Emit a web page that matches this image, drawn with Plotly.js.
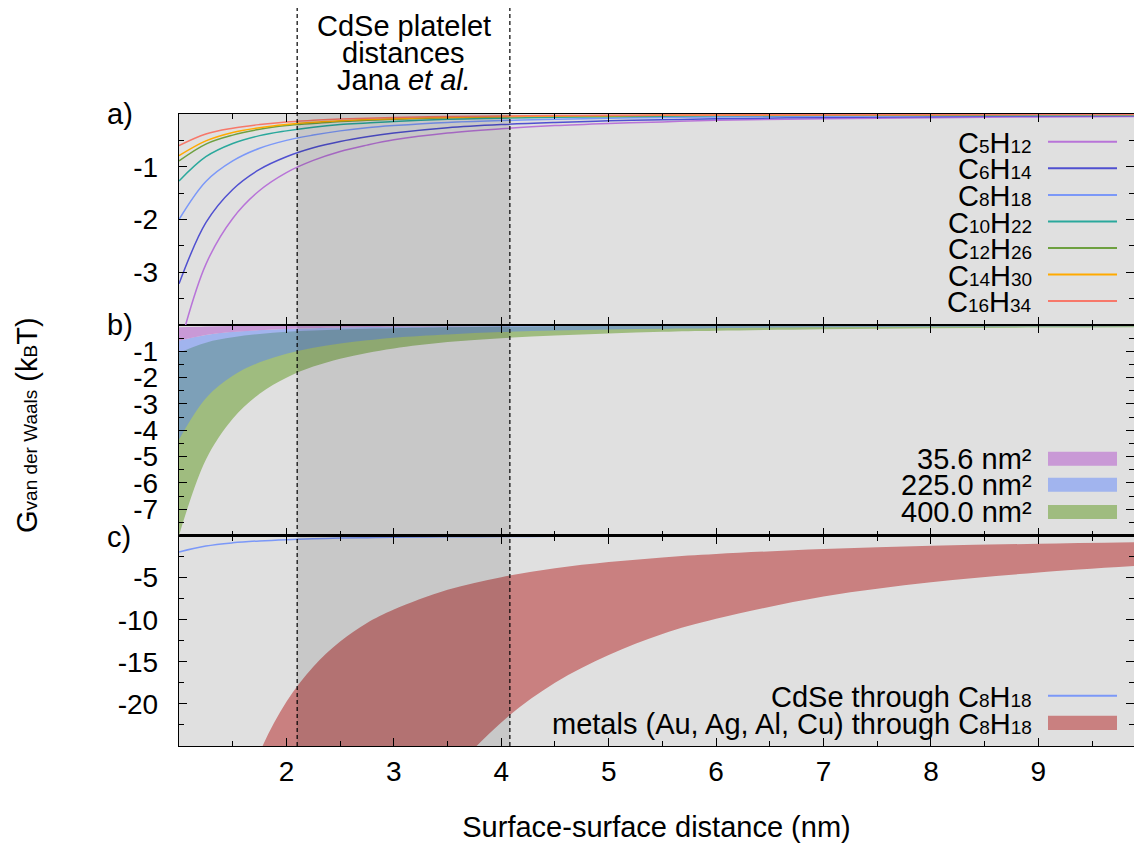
<!DOCTYPE html>
<html>
<head>
<meta charset="utf-8">
<script src="https://cdn.plot.ly/plotly-3.0.1.min.js"></script>
<style>html,body{margin:0;padding:0;background:#fff;}#chart{width:1134px;height:843px;}</style>
</head>
<body>
<div id="chart"></div>
<script>
// ---- data ----
const distance = [1, 1.25, 1.5, 1.75, 2, 2.25, 2.5, 2.75, 3, 3.5, 4, 4.5, 5, 5.5, 6, 7, 8, 9, 10];

// small subscript helper (text styling only)
const sb = t => '<span style="font-size:19px">' + t + '</span>';

// panel a: alkane series
const alkaneNames = ["C" + sb("5") + "H" + sb("12"), "C" + sb("6") + "H" + sb("14"), "C" + sb("8") + "H" + sb("18"),
  "C" + sb("10") + "H" + sb("22"), "C" + sb("12") + "H" + sb("26"), "C" + sb("14") + "H" + sb("30"), "C" + sb("16") + "H" + sb("34")];
const C5H12  = [-4.45, -2.85, -1.98, -1.45, -1.11, -0.88, -0.71, -0.59, -0.49, -0.36, -0.28, -0.22, -0.18, -0.15, -0.12, -0.09, -0.07, -0.055, -0.045];
const C6H14  = [-3.22, -2.06, -1.43, -1.05, -0.81, -0.64, -0.52, -0.43, -0.36, -0.26, -0.20, -0.16, -0.13, -0.11, -0.09, -0.066, -0.05, -0.04, -0.032];
const C8H18  = [-2.0, -1.28, -0.89, -0.65, -0.5, -0.40, -0.32, -0.26, -0.22, -0.16, -0.125, -0.10, -0.08, -0.066, -0.056, -0.041, -0.031, -0.025, -0.02];
const C10H22 = [-1.27, -0.81, -0.56, -0.41, -0.32, -0.25, -0.20, -0.17, -0.14, -0.10, -0.08, -0.063, -0.051, -0.042, -0.035, -0.026, -0.02, -0.016, -0.013];
const C12H26 = [-0.89, -0.57, -0.40, -0.29, -0.22, -0.18, -0.14, -0.12, -0.10, -0.073, -0.056, -0.044, -0.036, -0.029, -0.025, -0.018, -0.014, -0.011, -0.009];
const C14H30 = [-0.79, -0.51, -0.35, -0.26, -0.20, -0.156, -0.126, -0.104, -0.088, -0.064, -0.049, -0.039, -0.032, -0.026, -0.022, -0.016, -0.012, -0.010, -0.008];
const C16H34 = [-0.60, -0.38, -0.27, -0.20, -0.15, -0.12, -0.096, -0.079, -0.067, -0.049, -0.038, -0.030, -0.024, -0.020, -0.017, -0.012, -0.009, -0.007, -0.006];

// panel b: platelet areas, bands (upper / lower)
const areaNames = ["35.6 nm²", "225.0 nm²", "400.0 nm²"];
const a356Upper = [-0.09, -0.058, -0.04, -0.029, -0.022, -0.018, -0.014, -0.012, -0.010, -0.007, -0.006, -0.004, -0.004, -0.003, -0.0025, -0.002, -0.0014, -0.0011, -0.0009];
const a356Lower = [-0.60, -0.38, -0.27, -0.20, -0.15, -0.12, -0.096, -0.079, -0.067, -0.049, -0.038, -0.030, -0.024, -0.020, -0.017, -0.012, -0.009, -0.007, -0.006];
const a225Upper = [-0.59, -0.38, -0.26, -0.19, -0.15, -0.12, -0.094, -0.078, -0.066, -0.048, -0.037, -0.029, -0.024, -0.020, -0.016, -0.012, -0.009, -0.007, -0.006];
const a225Lower = [-4.35, -2.78, -1.93, -1.42, -1.09, -0.86, -0.70, -0.58, -0.48, -0.36, -0.27, -0.21, -0.17, -0.14, -0.12, -0.089, -0.068, -0.054, -0.044];
const a400Upper = [-1.05, -0.67, -0.47, -0.34, -0.26, -0.21, -0.17, -0.14, -0.12, -0.086, -0.066, -0.052, -0.042, -0.035, -0.029, -0.021, -0.016, -0.013, -0.011];
const a400Lower = [-8.0, -5.12, -3.56, -2.61, -2.0, -1.58, -1.28, -1.06, -0.89, -0.65, -0.50, -0.40, -0.32, -0.26, -0.22, -0.16, -0.125, -0.099, -0.08];

// panel c
const panelCNames = ["CdSe through C" + sb("8") + "H" + sb("18"), "metals (Au, Ag, Al, Cu) through C" + sb("8") + "H" + sb("18")];
const cdseC8 = [-1.95, -1.25, -0.87, -0.64, -0.49, -0.39, -0.31, -0.26, -0.22, -0.16, -0.12, -0.10, -0.08, -0.065, -0.054, -0.04, -0.03, -0.024, -0.02];
const metalUpper = [-79, -50.6, -35.1, -25.8, -19.75, -15.6, -12.6, -10.4, -8.8, -6.45, -4.95, -3.9, -3.16, -2.6, -2.2, -1.61, -1.23, -0.98, -0.79];
const metalLower = [-355, -227, -158, -116, -89, -70, -57, -47, -39.4, -29, -22.2, -17.5, -14.2, -11.7, -9.9, -7.25, -5.55, -4.4, -3.55];

// Jana et al. platelet distance range (nm)
const janaRange = [2.1, 4.08];

// axis ticks
const xTicks = [2, 3, 4, 5, 6, 7, 8, 9];
const yTicksA = [-1, -2, -3];
const yTicksB = [-1, -2, -3, -4, -5, -6, -7];
const yTicksC = [-5, -10, -15, -20];

// ---- styling ----
const FONT = "Liberation Sans, Arial, Helvetica, sans-serif";
const TXT = 29;
const TICK = 28;
const alkaneColors = ["#b874d8", "#5050d0", "#7b98f8", "#2aa89c", "#6ea040", "#ffaa00", "#f7786a"];
const alkaneSeries = [C5H12, C6H14, C8H18, C10H22, C12H26, C14H30, C16H34];
const areaFill = ["rgb(201,153,214)", "rgba(84,126,255,0.45)", "rgb(159,188,127)"];
const areaSwatch = ["rgb(201,153,214)", "rgb(161,180,238)", "rgb(159,188,127)"];
const metalColor = "rgb(201,128,128)";
const cdseColor = "#7b98f8";

const traces = [];
// panel a (top): x3 / y
alkaneSeries.forEach((s, i) => {
  traces.push({x: distance, y: s, xaxis: "x3", yaxis: "y", type: "scatter", mode: "lines",
    line: {color: alkaneColors[i], width: 1.5, shape: "spline"}, name: alkaneNames[i]});
});
// panel b (middle): x2 / y2 ; order: 400 (green), 225 (blue), 35.6 (purple)
const bands = [[a400Lower, a400Upper, 2], [a225Lower, a225Upper, 1], [a356Lower, a356Upper, 0]];
bands.forEach(([lo, up, k]) => {
  traces.push({x: distance, y: lo, xaxis: "x2", yaxis: "y2", type: "scatter", mode: "lines",
    line: {color: "rgba(0,0,0,0)", width: 0, shape: "spline"}, showlegend: false});
  traces.push({x: distance, y: up, xaxis: "x2", yaxis: "y2", type: "scatter", mode: "lines", fill: "tonexty",
    fillcolor: areaFill[k], line: {color: "rgba(0,0,0,0)", width: 0, shape: "spline"}, name: areaNames[k]});
});
// panel c (bottom): x / y3
traces.push({x: distance, y: metalLower, xaxis: "x", yaxis: "y3", type: "scatter", mode: "lines",
  line: {color: "rgba(0,0,0,0)", width: 0, shape: "spline"}, showlegend: false});
traces.push({x: distance, y: metalUpper, xaxis: "x", yaxis: "y3", type: "scatter", mode: "lines", fill: "tonexty",
  fillcolor: metalColor, line: {color: "rgba(0,0,0,0)", width: 0, shape: "spline"}, name: panelCNames[1]});
traces.push({x: distance, y: cdseC8, xaxis: "x", yaxis: "y3", type: "scatter", mode: "lines",
  line: {color: cdseColor, width: 1.5, shape: "spline"}, name: panelCNames[0]});

// ---- layout geometry (pixels -> paper) ----
const L = 179, R = 1134, T = 114, B = 746;
const px = v => (v - L) / (R - L);
const py = v => (B - v) / (B - T);

const xBase = {range: [1, 9.89], showgrid: false, zeroline: false, showline: true, linecolor: "#000", linewidth: 1.2,
  mirror: "ticks", ticks: "inside", ticklen: 8, tickwidth: 1, tickcolor: "#000",
  tickmode: "array", tickvals: xTicks,
  minor: {tickmode: "linear", tick0: 0, dtick: 0.5, ticks: "inside", ticklen: 5, tickwidth: 1, tickcolor: "#000"},
  tickfont: {family: FONT, size: TICK, color: "#000"}};
const yBase = (range, vals, minorD) => ({range: range, showgrid: false, zeroline: false, showline: true, linecolor: "#000", linewidth: 1.2,
  mirror: "ticks", ticks: "inside", ticklen: 8, tickwidth: 1, tickcolor: "#000", tickmode: "array", tickvals: vals,
  ticktext: vals.map(v => "-" + Math.abs(v)),
  minor: {tickmode: "linear", tick0: 0, dtick: minorD, ticks: "inside", ticklen: 5, tickwidth: 1, tickcolor: "#000"},
  tickfont: {family: FONT, size: TICK, color: "#000"}, ticklabelstandoff: 14});

const dA = [py(325), 1], dB = [py(535.5), py(325)], dC = [0, py(535.5)];

const shapes = [
  {type: "rect", xref: "x", yref: "paper", x0: janaRange[0], x1: janaRange[1], y0: 0, y1: 1,
   fillcolor: "rgba(0,0,0,0.105)", line: {width: 0}, layer: "above"},
];
janaRange.forEach(v => shapes.push({type: "line", xref: "x", yref: "paper", x0: v, x1: v, y0: 0, y1: py(8),
  line: {color: "#000", width: 1.2, dash: "4px,3px"}, layer: "above"}));

const annotations = [];
const ann = (text, x, y, opts) => annotations.push(Object.assign({text: text, x: x, y: y, xref: "paper", yref: "paper",
  showarrow: false, font: {family: FONT, size: TXT, color: "#000"}}, opts || {}));

// header note
const mid = (janaRange[0] + janaRange[1]) / 2;
["CdSe platelet", "distances", "Jana <i>et al.</i>"].forEach((t, i) => {
  annotations.push({text: t, x: mid, xref: "x", y: py([26, 53, 80][i]), yref: "paper", showarrow: false,
    xanchor: "center", yanchor: "middle", font: {family: FONT, size: TXT, color: "#000"}});
});
// panel labels
ann("a)", px(105), py(114), {xanchor: "left", yanchor: "middle"});
ann("b)", px(105), py(325), {xanchor: "left", yanchor: "middle"});
ann("c)", px(105), py(537), {xanchor: "left", yanchor: "middle"});
// y title
ann("G" + sb("van der Waals") + " (k" + sb("B") + "T)", px(27), py(425), {textangle: -90, xanchor: "center", yanchor: "middle"});

// legend panel a
const rowsA = [141.7, 168.3, 195, 221.5, 248, 274.5, 301];
alkaneNames.forEach((n, i) => {
  ann(n, px(1034), py(rowsA[i] + 1), {xanchor: "right", yanchor: "middle"});
  shapes.push({type: "line", xref: "paper", yref: "paper", x0: px(1048), x1: px(1117), y0: py(rowsA[i]), y1: py(rowsA[i]),
    line: {color: alkaneColors[i], width: 2}});
});
// legend panel b
const rowsB = [458.7, 484.7, 512];
areaNames.forEach((n, i) => {
  ann(n, px(1034), py(rowsB[i]), {xanchor: "right", yanchor: "middle"});
  shapes.push({type: "rect", xref: "paper", yref: "paper", x0: px(1048), x1: px(1117), y0: py(rowsB[i] + 7), y1: py(rowsB[i] - 7),
    fillcolor: areaSwatch[i], line: {width: 0}});
});
// legend panel c
ann(panelCNames[0], px(1034), py(695.7 + 1), {xanchor: "right", yanchor: "middle"});
shapes.push({type: "line", xref: "paper", yref: "paper", x0: px(1048), x1: px(1117), y0: py(695.7), y1: py(695.7),
  line: {color: cdseColor, width: 2}});
ann(panelCNames[1], px(1034), py(722.8 + 1), {xanchor: "right", yanchor: "middle"});
shapes.push({type: "rect", xref: "paper", yref: "paper", x0: px(1048), x1: px(1117), y0: py(730), y1: py(715.7),
  fillcolor: metalColor, line: {width: 0}});

const layout = {
  width: 1134, height: 843,
  margin: {l: L, r: 1134 - R, t: T, b: 843 - B, pad: 0},
  paper_bgcolor: "#ffffff", plot_bgcolor: "#e0e0e0",
  showlegend: false,
  hovermode: false,
  font: {family: FONT, size: TICK, color: "#000"},
  xaxis: Object.assign({}, xBase, {anchor: "y3", title: {text: "Surface-surface distance (nm)", font: {family: FONT, size: TXT, color: "#000"}, standoff: 31}}),
  xaxis2: Object.assign({}, xBase, {anchor: "y2", matches: "x", showticklabels: false}),
  xaxis3: Object.assign({}, xBase, {anchor: "y", matches: "x", showticklabels: false}),
  yaxis: Object.assign(yBase([-4, 0], yTicksA, 0.5), {domain: dA, anchor: "x3"}),
  yaxis2: Object.assign(yBase([-8, 0], yTicksB, 0.5), {domain: dB, anchor: "x2"}),
  yaxis3: Object.assign(yBase([-25, 0], yTicksC, 2.5), {domain: dC, anchor: "x"}),
  shapes: shapes,
  annotations: annotations
};

Plotly.newPlot("chart", traces, layout, {staticPlot: true, displayModeBar: false});
</script>
</body>
</html>
